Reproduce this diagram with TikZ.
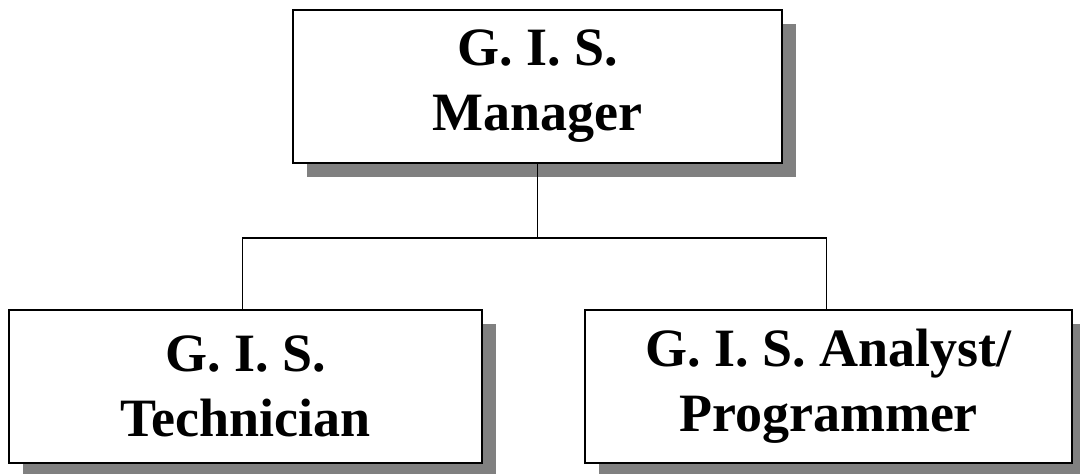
\documentclass[tikz,border=0pt]{standalone}
\usepackage{fontspec}
\setmainfont{Liberation Serif}
\usetikzlibrary{shadows}
\begin{document}
\begin{tikzpicture}[x=1pt,y=-1pt,
  orgbox/.style={draw=black, line width=2.8pt, fill=white, rectangle,
    minimum height=153pt, inner sep=0pt, align=center,
    font=\fontsize{54}{65}\selectfont\bfseries,
    general shadow={fill=black!50, shadow xshift=14pt, shadow yshift=-14pt}},
  link/.style={draw=black, line width=1.9pt}]
\useasboundingbox (0,0) rectangle (1080,474);
\node[orgbox, minimum width=489pt] (top) at (537.5,86.5) {\raisebox{-3pt}{\parbox{400pt}{\centering G. I. S.\\Manager}}};
\node[orgbox, minimum width=473pt] (tech) at (245.5,386.5) {G. I. S.\\Technician};
\node[orgbox, minimum width=487pt] (anal) at (828.5,386.5) {G. I. S. Analyst/\\Programmer};
\coordinate (j) at (537.5,238);
\draw[link] (top.south) -- (j);
\draw[link] ([xshift=-3pt]tech.north) |- (j) -| ([xshift=-2pt]anal.north);
\end{tikzpicture}
\end{document}
